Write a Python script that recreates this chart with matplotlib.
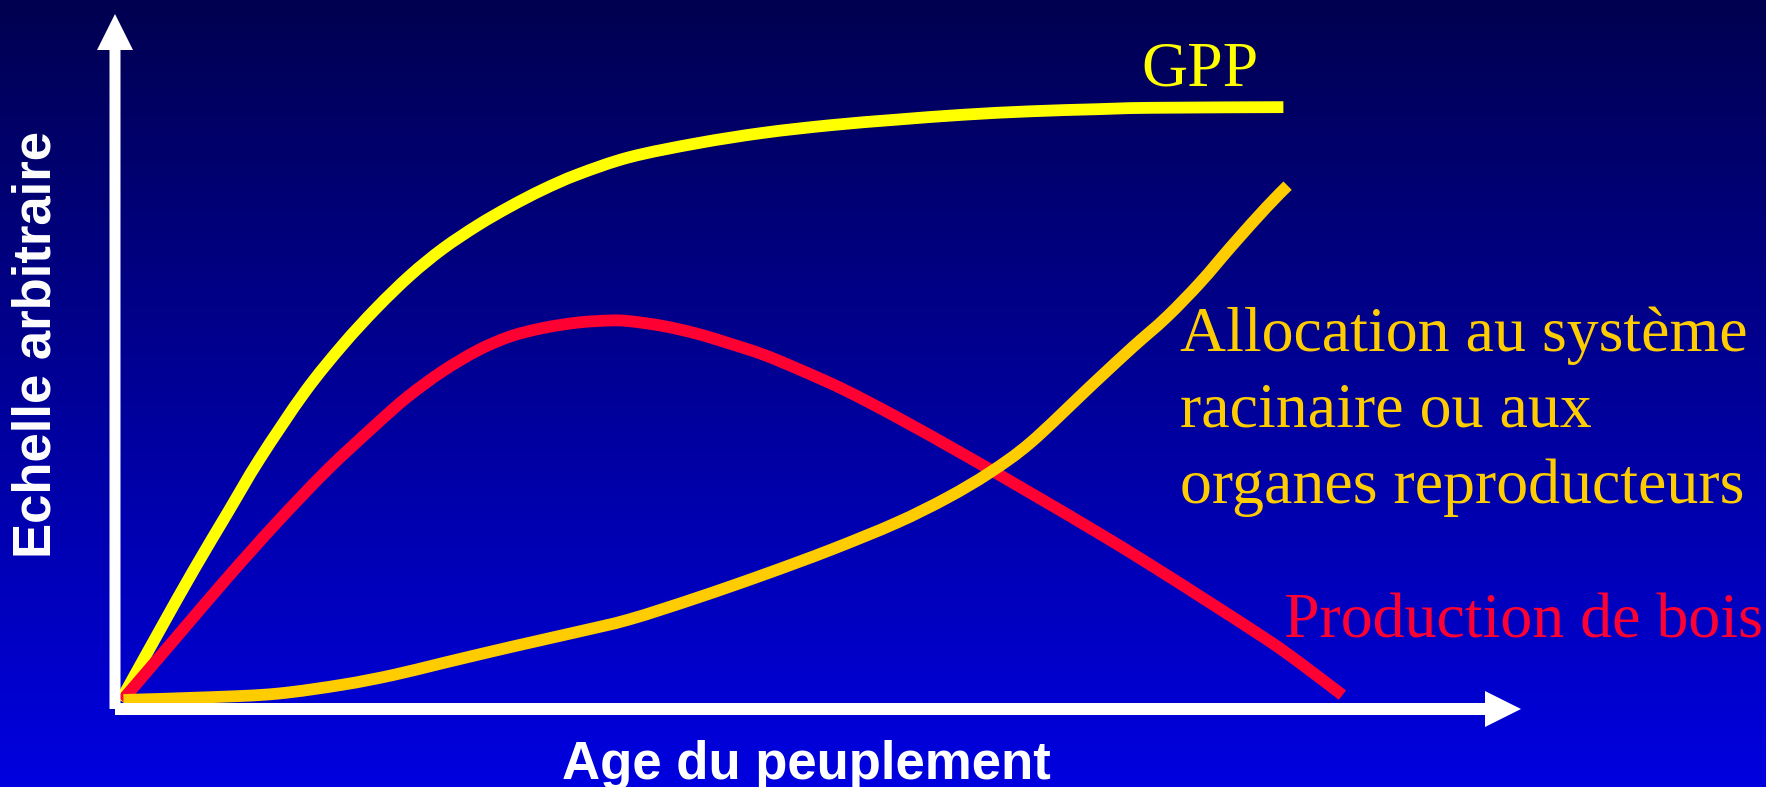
import numpy as np
import matplotlib
matplotlib.use('Agg')
import matplotlib.pyplot as plt
from matplotlib.patches import FancyArrow, PathPatch
from matplotlib.path import Path

# Stand age (arbitrary units) and the three curves read along it
gpp_age = [0.4, 3.2, 5.6, 8.0, 10.3, 13.5, 16.2, 18.6, 21.0, 23.3, 25.8, 28.1,
           30.4, 32.9, 36.6, 41.4, 46.1, 50.9, 55.6, 60.3, 65.1, 69.8, 73.6, 83.1]
gpp_val = [1.2, 11.4, 20.0, 28.2, 36.0, 45.6, 52.4, 57.7, 62.4, 66.2, 69.6, 72.3,
           74.7, 76.9, 79.4, 81.4, 82.9, 84.0, 84.8, 85.5, 86.0, 86.3, 86.5, 86.6]

wood_age = [0.5, 4.4, 8.0, 11.5, 15.1, 18.6, 20.8, 23.3, 25.8, 28.1, 30.4, 32.9,
            35.2, 36.6, 39.0, 41.4, 43.7, 46.1, 48.5, 51.8, 55.6, 60.3, 65.1,
            69.8, 73.6, 77.8, 82.0, 84.3, 87.3]
wood_val = [1.2, 10.4, 18.9, 26.8, 34.4, 41.0, 44.9, 48.6, 51.6, 53.6, 54.8, 55.6,
            55.9, 55.8, 55.1, 54.0, 52.6, 51.0, 49.0, 46.0, 42.0, 36.7, 31.1,
            25.5, 20.8, 15.4, 9.9, 6.6, 2.0]

alloc_age = [0.6, 6.8, 11.5, 16.2, 19.8, 23.3, 28.1, 32.9, 36.6, 41.4, 46.1, 50.9,
             55.6, 59.2, 62.2, 65.1, 69.1, 70.1, 72.4, 74.8, 77.2, 79.5, 81.9, 83.4]
alloc_val = [1.3, 1.7, 2.2, 3.5, 4.9, 6.6, 8.9, 11.1, 12.9, 16.0, 19.3, 22.9,
             26.8, 30.4, 34.0, 38.3, 45.9, 47.8, 52.1, 56.4, 61.4, 66.8, 72.2, 75.3]

alloc_lines = ['Allocation au système', 'racinaire ou aux', 'organes reproducteurs']


def smooth_path(xs, ys):
    """Catmull-Rom curve through the points, as cubic Bezier segments."""
    p = np.column_stack([xs, ys]).astype(float)
    ext = np.vstack([p[0], p, p[-1]])
    verts = [p[0]]
    codes = [Path.MOVETO]
    for i in range(len(p) - 1):
        a, b, c, d = ext[i], ext[i + 1], ext[i + 2], ext[i + 3]
        verts += [b + (c - a) / 6, c - (d - b) / 6, c]
        codes += [Path.CURVE4] * 3
    return Path(verts, codes)


W, H, DPI = 17.66, 7.87, 100
fig = plt.figure(figsize=(W, H), dpi=DPI)

# blue vertical gradient behind everything
bg = fig.add_axes([0, 0, 1, 1], zorder=-1)
shade = np.linspace(0x50, 0xE0, 512) / 255.0
grad = np.zeros((512, 1, 3))
grad[:, 0, 2] = shade
bg.imshow(grad, aspect='auto', extent=[0, 1, 0, 1], origin='upper')
bg.set_axis_off()

# plotting area: origin at the corner of the white axes, top/right at arrow tips
left, bottom = 115 / 1766, 78 / 787
ax = fig.add_axes([left, bottom, 1406 / 1766, 695 / 787])
ax.set_xlim(0, 100)
ax.set_ylim(0, 100)
ax.set_axis_off()
ax.patch.set_alpha(0)

# white axis arrows (drawn in inches so the shaft width stays even)
ox, oy = left * W, bottom * H
pos = ax.get_position()
fig.patches.append(FancyArrow(ox, oy, 0, pos.height * H, width=0.11, head_width=0.36,
                              head_length=0.36, length_includes_head=True,
                              color='white', lw=0, transform=fig.dpi_scale_trans))
fig.patches.append(FancyArrow(ox, oy, pos.width * W, 0, width=0.12, head_width=0.36,
                              head_length=0.36, length_includes_head=True,
                              color='white', lw=0, transform=fig.dpi_scale_trans))

lw = 8.5
curves = [(gpp_age, gpp_val, '#FFFF00', 1),
          (wood_age, wood_val, '#FF0033', 2),
          (alloc_age, alloc_val, '#FFCC00', 3)]
for xs, ys, col, z in curves:
    ax.add_patch(PathPatch(smooth_path(xs, ys), fill=False, edgecolor=col, lw=lw,
                           capstyle='butt', joinstyle='round', clip_on=False,
                           zorder=z))

serif = 'Liberation Serif'
fig.text(1141 / 1766, 1 - 86 / 787, 'GPP', color='#FFFF00', family=serif,
         fontsize=46, ha='left', va='baseline')
for i, line in enumerate(alloc_lines):
    fig.text(1180 / 1766, 1 - (351 + 76 * i) / 787, line, color='#FFCC00',
             family=serif, fontsize=46, ha='left', va='baseline')
fig.text(1284 / 1766, 1 - 637 / 787, 'Production de bois', color='#FF0033',
         family=serif, fontsize=46, ha='left', va='baseline')

sans = 'Liberation Sans'
fig.text(806 / 1766, 1 - 779 / 787, 'Age du peuplement', color='white', family=sans,
         fontweight='bold', fontsize=38, ha='center', va='baseline')
fig.text(37 / 1766, 1 - 345 / 787, 'Echelle arbitraire', color='white', family=sans,
         fontweight='bold', fontsize=38, rotation=90, ha='center', va='center')

fig.savefig('out.png', dpi=DPI)
